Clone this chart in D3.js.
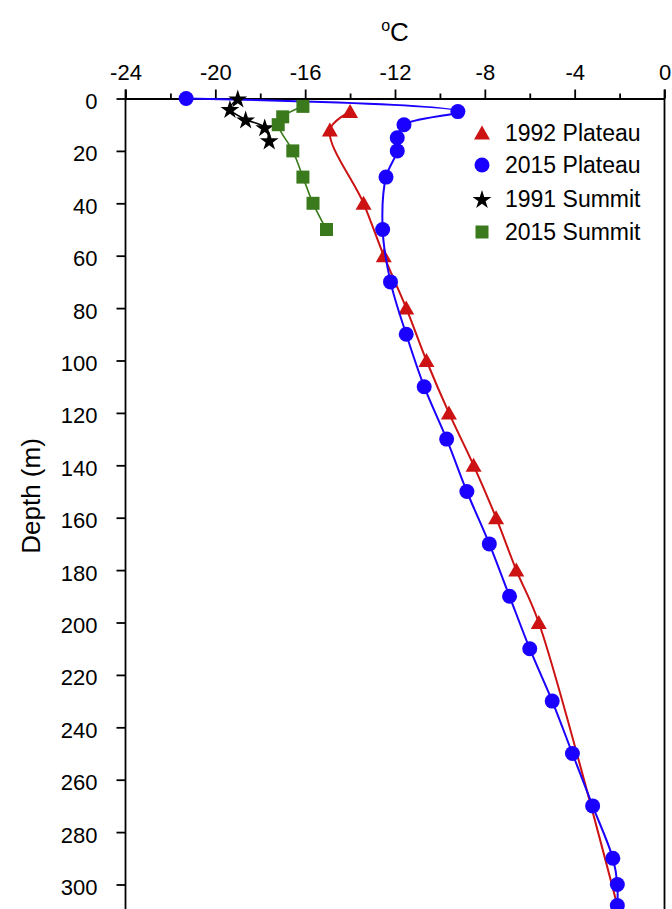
<!DOCTYPE html>
<html><head><meta charset="utf-8">
<script src="https://cdn.jsdelivr.net/npm/d3@7"></script>
<style>
body{margin:0;background:#fff;}
svg{display:block;background:#fff;}
text{font-family:"Liberation Sans",Arial,sans-serif;fill:#000;}
</style>
</head><body>
<svg id="chart" width="672" height="909"></svg>
<script>
// ---- data (temperature in °C, depth in m) ----
const plateau1992Depth = [5, 12, 40, 60, 80, 100, 120, 140, 160, 180, 200, 308];
const plateau1992Temp  = [-14.0, -14.9, -13.4, -12.5, -11.5, -10.6, -9.6, -8.5, -7.5, -6.6, -5.6, -2.1];

const plateau2015Depth = [0, 5, 10, 15, 20, 30, 50, 70, 90, 110, 130, 150, 170, 190, 210, 230, 250, 270, 290, 300, 308];
const plateau2015Temp  = [-21.3, -9.2, -11.6, -11.9, -11.9, -12.4, -12.55, -12.2, -11.5, -10.7, -9.7, -8.8, -7.8, -6.9, -6.0, -5.0, -4.1, -3.2, -2.3, -2.1, -2.1];

const summit1991Depth = [0, 4, 8, 11, 16];
const summit1991Temp  = [-19.0, -19.35, -18.65, -17.8, -17.6];

const summit2015Depth = [3, 7, 10, 20, 30, 40, 50];
const summit2015Temp  = [-16.1, -17.0, -17.2, -16.55, -16.1, -15.65, -15.05];

const seriesNames = ["1992 Plateau", "2015 Plateau", "1991 Summit", "2015 Summit"];
const xTickValues = [-24, -20, -16, -12, -8, -4, 0];
const xMinorTicks = [-22, -18, -14, -10, -6, -2];
const yTickValues = [0, 20, 40, 60, 80, 100, 120, 140, 160, 180, 200, 220, 240, 260, 280, 300];
const xTitle = "C";
const yTitle = "Depth (m)";

// ---- layout ----
const W = 672, H = 909;
const pL = 125.5, pR = 664.5, pT = 98.5;
const pxPerM = 2.62;
const RED = "#cc1212", BLUE = "#1a00ff", BLACK = "#000000", GREEN = "#3a7a1c";
const FONT = 22;

const svg = d3.select("#chart");
svg.append("rect").attr("width", W).attr("height", H).attr("fill", "#fff");

const x = d3.scaleLinear().domain([-24, 0]).range([pL, pR]);
const y = d3.scaleLinear().domain([0, 320]).range([pT, pT + 320 * pxPerM]);

// right border
svg.append("line").attr("x1", pR).attr("x2", pR).attr("y1", pT - 9).attr("y2", H)
  .attr("stroke", "#000").attr("stroke-width", 1.8);

// left axis line (extends to bottom)
svg.append("line").attr("x1", pL).attr("x2", pL).attr("y1", pT - 9).attr("y2", H)
  .attr("stroke", "#000").attr("stroke-width", 1.8);

// top axis
const gx = svg.append("g").attr("transform", `translate(0,${pT})`)
  .call(d3.axisTop(x).tickValues(xTickValues).tickSize(9).tickSizeOuter(0).tickPadding(10)
    .tickFormat(d => String(d)));
gx.select(".domain").attr("stroke-width", 1.8);
gx.selectAll(".tick line").attr("stroke-width", 1.8);
gx.selectAll("text").attr("font-size", FONT).attr("font-family", '"Liberation Sans",Arial,sans-serif');

svg.append("g").attr("transform", `translate(0,${pT})`)
  .call(d3.axisTop(x).tickValues(xMinorTicks).tickSize(5).tickSizeOuter(0).tickFormat(""))
  .call(g => g.select(".domain").remove())
  .selectAll(".tick line").attr("stroke-width", 1.8);

// left axis
const gy = svg.append("g").attr("transform", `translate(${pL},0)`)
  .call(d3.axisLeft(y).tickValues(yTickValues).tickSize(9).tickSizeOuter(0).tickPadding(19));
gy.select(".domain").remove();
gy.selectAll(".tick line").attr("stroke-width", 1.8);
gy.selectAll("text").attr("font-size", FONT).attr("dy", "0.45em")
  .attr("font-family", '"Liberation Sans",Arial,sans-serif');

// titles
const ttl = svg.append("text").attr("x", (pL + pR) / 2).attr("y", 41)
  .attr("text-anchor", "middle").attr("font-size", 26);
ttl.append("tspan").attr("font-size", 16).attr("dy", -10).text("o");
ttl.append("tspan").attr("dy", 10).text(xTitle);

svg.append("text").attr("transform", "translate(31,496) rotate(-90)")
  .attr("text-anchor", "middle").attr("dominant-baseline", "central")
  .attr("font-size", 26).text(yTitle);

// ---- series ----
const line = d3.line().x(d => x(d[0])).y(d => y(d[1])).curve(d3.curveCatmullRom.alpha(0.5));
const zip = (tt, dd) => tt.map((v, i) => [v, dd[i]]);

const series = [
  {name: seriesNames[0], pts: zip(plateau1992Temp, plateau1992Depth), color: RED, sym: "tri", lw: 2},
  {name: seriesNames[1], pts: zip(plateau2015Temp, plateau2015Depth), color: BLUE, sym: "circle", lw: 2},
  {name: seriesNames[2], pts: zip(summit1991Temp, summit1991Depth), color: BLACK, sym: "star", lw: 1.6},
  {name: seriesNames[3], pts: zip(summit2015Temp, summit2015Depth), color: GREEN, sym: "square", lw: 1.6}
];

function drawMarker(g, sym, color, cx, cy) {
  if (sym === "circle") {
    g.append("circle").attr("cx", cx).attr("cy", cy).attr("r", 7.5).attr("fill", color);
  } else if (sym === "tri") {
    g.append("path").attr("transform", `translate(${cx},${cy})`)
      .attr("d", "M0,-7.5L8,6.5L-8,6.5Z").attr("fill", color);
  } else if (sym === "star") {
    g.append("path").attr("transform", `translate(${cx},${cy + 1})`)
      .attr("d", d3.symbol(d3.symbolStar, 110)()).attr("fill", color);
  } else {
    g.append("rect").attr("x", cx - 6.5).attr("y", cy - 6.5).attr("width", 13).attr("height", 13).attr("fill", color);
  }
}

series.forEach(s => {
  const g = svg.append("g");
  g.append("path").attr("d", line(s.pts)).attr("fill", "none")
    .attr("stroke", s.color).attr("stroke-width", s.lw);
  s.pts.forEach(p => drawMarker(g, s.sym, s.color, x(p[0]), y(p[1])));
});

// ---- legend ----
const legendY = [133, 165, 199, 232];
series.forEach((s, i) => {
  const g = svg.append("g");
  drawMarker(g, s.sym, s.color, 482, legendY[i]);
  g.append("text").attr("x", 505).attr("y", legendY[i]).attr("dy", "0.36em")
    .attr("font-size", 23).text(s.name);
});
</script>
</body></html>
